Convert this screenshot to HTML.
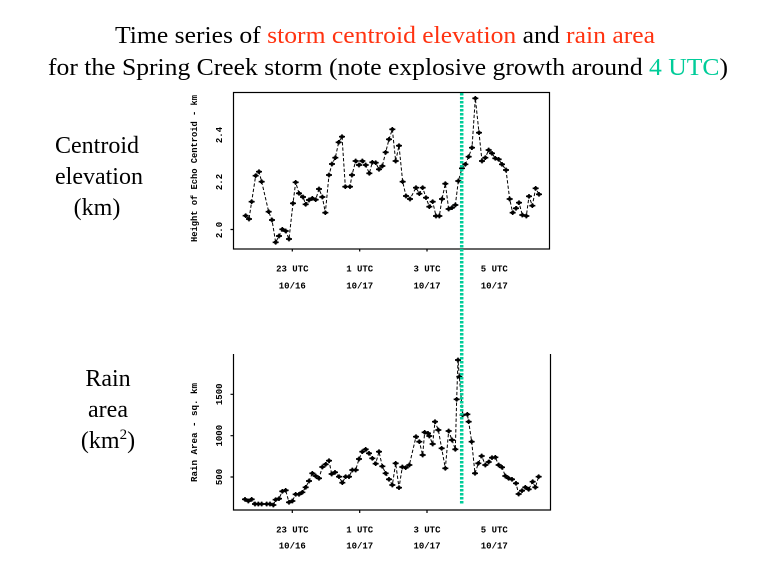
<!DOCTYPE html>
<html>
<head>
<meta charset="utf-8">
<style>
  html,body{margin:0;padding:0;background:#fff;}
  svg{display:block;}
  .serif{font-family:"Liberation Serif","Times New Roman",serif;font-size:24px;fill:#000;}
  .mono{font-family:"Liberation Mono",monospace;font-size:9px;font-weight:bold;fill:#000;}
</style>
</head>
<body>
<svg width="768" height="576" viewBox="0 0 768 576" xmlns="http://www.w3.org/2000/svg">
  <defs>
    <marker id="m" markerUnits="userSpaceOnUse" markerWidth="30" markerHeight="30" refX="15" refY="15" overflow="visible">
      <path d="M6 15H24M15 8V22" stroke="#000" stroke-width="5" fill="none"/>
      <rect x="10" y="11" width="10" height="8" fill="#000"/>
    </marker>
  </defs>
  <rect width="768" height="576" fill="#fff"/>

  <!-- Titles -->
  <text class="serif" x="385" y="43" text-anchor="middle" textLength="540" lengthAdjust="spacingAndGlyphs">Time series of <tspan fill="#ff3311">storm centroid elevation</tspan> and <tspan fill="#ff3311">rain area</tspan></text>
  <text class="serif" x="388" y="75" text-anchor="middle" textLength="680" lengthAdjust="spacingAndGlyphs">for the Spring Creek storm (note explosive growth around <tspan fill="#00cc99">4 UTC</tspan>)</text>

  <!-- Left labels -->
  <text class="serif" x="97" y="153" text-anchor="middle">Centroid</text>
  <text class="serif" x="99" y="184" text-anchor="middle">elevation</text>
  <text class="serif" x="97" y="215" text-anchor="middle">(km)</text>
  <text class="serif" x="108" y="386" text-anchor="middle">Rain</text>
  <text class="serif" x="108" y="417" text-anchor="middle">area</text>
  <text class="serif" x="108" y="448" text-anchor="middle">(km<tspan font-size="15" dy="-9">2</tspan><tspan dy="9">)</tspan></text>

  <!-- Top plot frame -->
  <rect x="233.5" y="92.5" width="316" height="156.5" fill="none" stroke="#000" stroke-width="1.2"/>
  <path d="M292.3 249V251.5M359.7 249V251.5M427 249V251.5M233.5 229.5H230.5" stroke="#000" stroke-width="1.2"/>
  <text class="mono" transform="translate(197,168.5) rotate(-90)" text-anchor="middle" textLength="147" lengthAdjust="spacingAndGlyphs">Height of Echo Centroid - km</text>
  <text class="mono" transform="translate(222,230) rotate(-90)" text-anchor="middle">2.0</text>
  <text class="mono" transform="translate(222,182) rotate(-90)" text-anchor="middle">2.2</text>
  <text class="mono" transform="translate(222,135) rotate(-90)" text-anchor="middle">2.4</text>
  <text class="mono" x="292.3" y="271.5" text-anchor="middle">23 UTC</text>
  <text class="mono" x="359.7" y="271.5" text-anchor="middle">1 UTC</text>
  <text class="mono" x="427" y="271.5" text-anchor="middle">3 UTC</text>
  <text class="mono" x="494.3" y="271.5" text-anchor="middle">5 UTC</text>
  <text class="mono" x="292.3" y="288.5" text-anchor="middle">10/16</text>
  <text class="mono" x="359.7" y="288.5" text-anchor="middle">10/17</text>
  <text class="mono" x="427" y="288.5" text-anchor="middle">10/17</text>
  <text class="mono" x="494.3" y="288.5" text-anchor="middle">10/17</text>

  <g transform="translate(180 85) scale(0.333333)">
    <polyline fill="none" stroke="#000" stroke-width="3" stroke-dasharray="10 6"
      marker-start="url(#m)" marker-mid="url(#m)" marker-end="url(#m)"
      points="197,392 207,402 215,350 227,272 237,260 245,290 266,380 276,405 287,472 297,453 307,433 317,438 327,462 339,355 347,292 357,325 369,336 377,358 387,345 397,340 407,344 417,312 427,336 436,383 447,270 456,237 466,218 476,172 486,155 496,305 510,305 516,270 527,228 537,240 547,228 557,240 568,265 577,232 587,233 597,253 607,243 617,202 627,163 637,133 647,228 657,182 668,290 678,333 690,342 708,308 718,326 728,308 738,338 748,365 758,350 768,393 778,393 786,342 796,296 806,372 816,368 826,360 835,288 846,250 856,238 866,215 876,188 886,40 897,143 906,228 916,218 926,195 936,205 946,220 956,223 966,238 978,255 989,342 998,383 1008,370 1017,353 1027,390 1039,393 1047,334 1057,362 1067,310 1077,328"/>
  </g>

  <!-- Bottom plot frame -->
  <path d="M233.5 354V510H550.5V354" fill="none" stroke="#000" stroke-width="1.2"/>
  <path d="M292.3 510V513M359.7 510V513M427 510V513M233.5 394.3H230.5M233.5 435.7H230.5M233.5 477H230.5" stroke="#000" stroke-width="1.2"/>
  <text class="mono" transform="translate(197,432.5) rotate(-90)" text-anchor="middle" textLength="99" lengthAdjust="spacingAndGlyphs">Rain Area - sq. km</text>
  <text class="mono" transform="translate(222,477) rotate(-90)" text-anchor="middle">500</text>
  <text class="mono" transform="translate(222,435.7) rotate(-90)" text-anchor="middle">1000</text>
  <text class="mono" transform="translate(222,394.3) rotate(-90)" text-anchor="middle">1500</text>
  <text class="mono" x="292.3" y="532.5" text-anchor="middle">23 UTC</text>
  <text class="mono" x="359.7" y="532.5" text-anchor="middle">1 UTC</text>
  <text class="mono" x="427" y="532.5" text-anchor="middle">3 UTC</text>
  <text class="mono" x="494.3" y="532.5" text-anchor="middle">5 UTC</text>
  <text class="mono" x="292.3" y="548.5" text-anchor="middle">10/16</text>
  <text class="mono" x="359.7" y="548.5" text-anchor="middle">10/17</text>
  <text class="mono" x="427" y="548.5" text-anchor="middle">10/17</text>
  <text class="mono" x="494.3" y="548.5" text-anchor="middle">10/17</text>

  <g transform="translate(180 345) scale(0.333333)">
    <polyline fill="none" stroke="#000" stroke-width="3" stroke-dasharray="10 6"
      marker-start="url(#m)" marker-mid="url(#m)" marker-end="url(#m)"
      points="195,463 205,468 215,463 225,477 235,477 245,477 260,477 270,477 280,480 287,464 297,461 307,439 317,436 327,472 337,468 347,448 357,448 367,442 377,427 387,408 397,385 407,393 417,400 427,366 437,358 447,347 455,387 465,382 477,395 487,413 497,395 507,395 517,375 527,375 537,342 547,320 557,313 567,325 577,340 587,356 597,320 607,364 617,385 627,403 637,420 647,355 657,428 667,366 677,368 688,360 708,275 718,290 728,330 734,262 744,265 748,273 758,297 765,230 775,255 785,310 796,370 806,258 816,285 826,313 830,163 834,45 838,95 848,210 862,208 866,230 875,290 885,385 895,355 905,333 916,360 926,351 936,338 946,337 956,360 966,367 976,393 986,400 996,403 1008,415 1016,447 1026,437 1036,427 1046,433 1058,410 1066,427 1076,395"/>
  </g>

  <!-- Dotted 4 UTC marker line -->
  <line x1="461.7" y1="93" x2="461.7" y2="505" stroke="#00cc99" stroke-width="3.5" stroke-dasharray="2.5 1.5"/>
</svg>
</body>
</html>
